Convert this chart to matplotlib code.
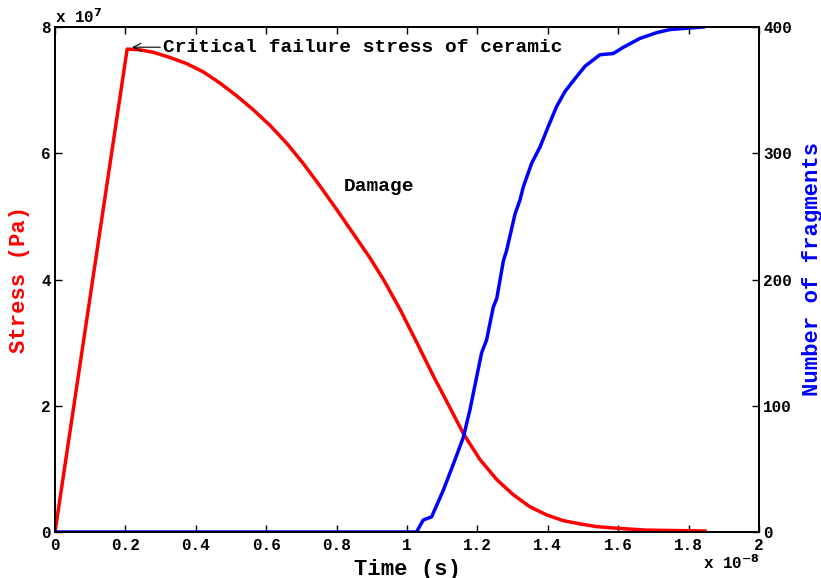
import numpy as np
import matplotlib
matplotlib.use("Agg")
import matplotlib.pyplot as plt
from matplotlib.ticker import FuncFormatter

plt.rcParams['font.family'] = ['Liberation Mono', 'DejaVu Sans Mono']
plt.rcParams['font.weight'] = 'bold'
plt.rcParams['mathtext.default'] = 'bf'

# time in units of 1e-8 s, stress in units of 1e7 Pa
t_stress = [0, 0.205, 0.24, 0.279, 0.325, 0.374, 0.421, 0.469, 0.516, 0.563, 0.611, 0.658,
            0.705, 0.753, 0.800, 0.847, 0.895, 0.933, 0.98, 1.028, 1.075, 1.122,
            1.160, 1.207, 1.255, 1.302, 1.349, 1.397, 1.444, 1.49, 1.539, 1.60,
            1.68, 1.80, 1.847]
stress = [0, 7.65, 7.64, 7.60, 7.52, 7.42, 7.29, 7.11, 6.91, 6.69, 6.44, 6.16,
          5.84, 5.48, 5.11, 4.73, 4.34, 4.00, 3.53, 3.00, 2.47, 1.97,
          1.56, 1.15, 0.83, 0.59, 0.40, 0.27, 0.18, 0.13, 0.085, 0.058,
          0.03, 0.02, 0.015]

t_frag = [0, 1.027, 1.046, 1.070, 1.103, 1.132, 1.160, 1.179, 1.198, 1.212,
          1.226, 1.245, 1.255, 1.274, 1.283, 1.307, 1.321, 1.330, 1.354, 1.378,
          1.401, 1.425, 1.449, 1.477, 1.506, 1.548, 1.586, 1.615, 1.662, 1.709,
          1.747, 1.842]
fragments = [0, 0, 9.5, 12, 33, 54, 75, 97, 123, 142,
             152, 178, 185, 215, 223, 252, 263, 273, 292, 305,
             321, 337, 349, 359, 369, 378, 379, 384, 391, 395.5,
             398, 400]

x_ticks = [0, 0.2, 0.4, 0.6, 0.8, 1.0, 1.2, 1.4, 1.6, 1.8, 2.0]
stress_ticks = [0, 2, 4, 6, 8]
frag_ticks = [0, 100, 200, 300, 400]

fig = plt.figure(figsize=(8.21, 5.78), dpi=100)
ax = fig.add_axes([55/821, 46/578, 704/821, 505/578])
ax2 = ax.twinx()

ax.plot(t_stress, stress, color='red', linewidth=2.5, zorder=3)
ax2.plot(t_frag, fragments, color='blue', linewidth=2.5)

ax.set_xlim(0, 2)
ax.set_ylim(0, 8)
ax2.set_ylim(0, 400)

fmt = FuncFormatter(lambda v, p: '%g' % v)
ax.set_xticks(x_ticks)
ax.xaxis.set_major_formatter(fmt)
ax.set_yticks(stress_ticks)
ax2.set_yticks(frag_ticks)

ax.tick_params(axis='x', direction='in', length=5, width=1, top=True, labelsize=11.5, pad=4)
ax.tick_params(axis='y', direction='in', length=5, width=1, labelsize=11.5, pad=3)
ax2.tick_params(axis='y', direction='in', length=5, width=1, labelsize=11.5, pad=3)

for a in (ax, ax2):
    for s in a.spines.values():
        s.set_linewidth(1.3)

ax.set_xlabel('Time (s)', fontsize=16, fontweight='bold', va='center')
ax.xaxis.set_label_coords(0.5, -37/505)
ax.set_ylabel('Stress (Pa)', fontsize=16, fontweight='bold', color='red', va='center')
ax.yaxis.set_label_coords(-35/704, 0.5)
ax2.set_ylabel('Number of fragments', fontsize=16, fontweight='bold', color='blue',
               va='center', rotation=90)
ax2.yaxis.set_label_coords(1 + 53/704, 0.52)

# exponent labels like MATLAB
fig.text(55/821, 1 - 17/578, r'x 10$^{7}$', fontsize=11.5, fontweight='bold',
         ha='left', va='center')
fig.text(703/821, 1 - 563/578, r'x 10$^{-8}$', fontsize=11.5, fontweight='bold',
         ha='left', va='center')

ax.annotate('Critical failure stress of ceramic', xy=(0.219, 7.68), xytext=(0.307, 7.68),
            fontsize=14, fontweight='bold', va='center', ha='left',
            arrowprops=dict(arrowstyle='->', color='black', lw=0.8, shrinkA=0, shrinkB=0))
ax.text(0.821, 5.47, 'Damage', fontsize=14, fontweight='bold', va='center', ha='left')

fig.savefig('out.png', dpi=100)
